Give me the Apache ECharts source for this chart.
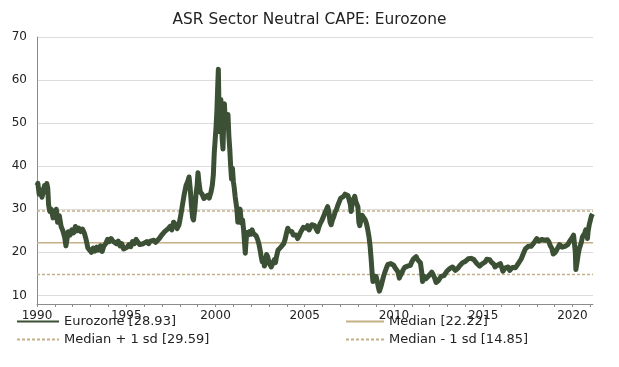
<!DOCTYPE html>
<html>
<head>
<meta charset="utf-8">
<script src="https://cdn.jsdelivr.net/npm/echarts@6/dist/echarts.min.js"></script>
<style>html,body{margin:0;padding:0;background:#fff;}#c{width:619px;height:367px;}</style>
</head>
<body>
<div id="c"></div>
<script>
const titleText = "ASR Sector Neutral CAPE: Eurozone";
const yTicks = [10, 20, 30, 40, 50, 60, 70];
const xTickYears = [1990, 1995, 2000, 2005, 2010, 2015, 2020];
const xYearTicks = [1990,1991,1992,1993,1994,1995,1996,1997,1998,1999,2000,2001,2002,2003,2004,2005,2006,2007,2008,2009,2010,2011,2012,2013,2014,2015,2016,2017,2018,2019,2020,2021];
const median = 22.22, medianPlus = 29.59, medianMinus = 14.85;
const lastValue = 28.93;
const times = [
1990.00,1990.05,1990.12,1990.20,1990.28,1990.35,1990.42,1990.50,1990.55,1990.60,1990.65,1990.72,1990.80,1990.90,
1991.00,1991.08,1991.15,1991.25,1991.35,1991.45,1991.55,1991.62,1991.68,1991.75,1991.85,1991.95,
1992.05,1992.15,1992.25,1992.35,1992.45,1992.55,1992.65,1992.75,1992.85,1992.95,
1993.05,1993.15,1993.25,1993.35,1993.45,1993.55,1993.65,1993.75,1993.85,1993.95,
1994.05,1994.15,1994.25,1994.35,1994.45,1994.55,1994.65,1994.75,1994.85,1994.95,
1995.05,1995.15,1995.25,1995.35,1995.45,1995.55,1995.65,1995.75,1995.85,1995.95,
1996.05,1996.15,1996.25,1996.35,1996.45,1996.55,1996.65,1996.75,1996.85,1996.95,
1997.05,1997.15,1997.25,1997.35,1997.45,1997.55,1997.65,1997.75,1997.85,1997.95,
1998.05,1998.15,1998.25,1998.35,1998.45,1998.52,1998.58,1998.65,1998.72,1998.77,1998.85,1998.92,1998.97,
1999.02,1999.08,1999.15,1999.25,1999.35,1999.45,1999.55,1999.65,1999.75,1999.82,1999.88,1999.93,1999.98,
2000.03,2000.08,2000.12,2000.16,2000.19,2000.22,2000.26,2000.30,2000.34,2000.38,2000.42,2000.46,2000.50,2000.55,2000.60,2000.65,2000.70,2000.75,2000.80,2000.85,2000.90,2000.95,
2001.00,2001.05,2001.10,2001.15,2001.20,2001.25,2001.30,2001.38,2001.45,2001.52,2001.58,2001.63,2001.67,2001.71,2001.76,2001.82,2001.90,2001.98,
2002.05,2002.12,2002.20,2002.28,2002.36,2002.44,2002.50,2002.56,2002.62,2002.68,2002.74,2002.80,2002.86,2002.92,2002.98,
2003.05,2003.12,2003.18,2003.24,2003.30,2003.36,2003.42,2003.50,2003.58,2003.66,2003.74,2003.82,2003.90,2003.98,
2004.05,2004.12,2004.20,2004.28,2004.36,2004.44,2004.52,2004.60,2004.68,2004.76,2004.84,2004.92,
2005.00,2005.08,2005.16,2005.24,2005.32,2005.40,2005.48,2005.56,2005.64,2005.72,2005.80,2005.88,2005.96,
2006.04,2006.12,2006.20,2006.28,2006.35,2006.42,2006.48,2006.55,2006.62,2006.70,2006.78,2006.86,2006.94,
2007.02,2007.10,2007.18,2007.26,2007.34,2007.42,2007.50,2007.56,2007.60,2007.66,2007.74,2007.80,2007.86,2007.92,2007.98,
2008.03,2008.08,2008.15,2008.22,2008.30,2008.38,2008.45,2008.52,2008.60,2008.66,2008.72,2008.77,2008.82,2008.88,2008.94,
2009.00,2009.06,2009.12,2009.18,2009.22,2009.28,2009.34,2009.42,2009.50,2009.58,2009.66,2009.74,2009.82,2009.90,2009.98,
2010.06,2010.14,2010.22,2010.30,2010.36,2010.44,2010.52,2010.60,2010.68,2010.76,2010.84,2010.92,
2011.00,2011.08,2011.16,2011.24,2011.32,2011.40,2011.48,2011.55,2011.60,2011.66,2011.72,2011.80,2011.88,2011.96,
2012.04,2012.12,2012.20,2012.28,2012.36,2012.42,2012.48,2012.56,2012.64,2012.72,2012.80,2012.88,2012.96,
2013.04,2013.12,2013.20,2013.28,2013.36,2013.44,2013.52,2013.60,2013.68,2013.76,2013.84,2013.92,
2014.00,2014.08,2014.16,2014.24,2014.32,2014.40,2014.48,2014.56,2014.64,2014.72,2014.80,2014.88,2014.96,
2015.04,2015.12,2015.20,2015.28,2015.36,2015.44,2015.52,2015.60,2015.66,2015.72,2015.80,2015.88,2015.96,
2016.04,2016.10,2016.16,2016.24,2016.32,2016.40,2016.48,2016.56,2016.64,2016.72,2016.80,2016.88,2016.96,
2017.04,2017.12,2017.20,2017.28,2017.36,2017.44,2017.52,2017.60,2017.68,2017.76,2017.84,2017.92,
2018.00,2018.06,2018.12,2018.20,2018.28,2018.36,2018.44,2018.52,2018.60,2018.68,2018.76,2018.84,2018.92,2018.98,
2019.04,2019.12,2019.20,2019.28,2019.36,2019.42,2019.50,2019.58,2019.66,2019.74,2019.82,2019.90,2019.98,
2020.06,2020.12,2020.16,2020.19,2020.22,2020.26,2020.32,2020.38,2020.44,2020.50,2020.56,2020.62,2020.68,2020.74,2020.80,2020.84,2020.88,2020.94,
2021.00,2021.06,2021.12
];
const eurozone = [
35.5,36,33.5,34.5,32.8,34,35.5,34,36,35,31,29.5,30,28,
28.5,30,27,28.5,26,25,23.5,21.5,23,24.8,24,25.2,
24.5,26,25,25.6,24.8,25.4,24.5,23,21,20.5,
20,21,20.3,21.2,20.5,21.5,20.2,21.5,22,23,
22.5,23.2,22.6,22.8,22,22.6,21.5,22,20.8,20.5,
21.2,21.8,21.3,22.5,22,23,22.6,21.8,21.4,22,
21.6,22.5,22,22.6,22.2,22.8,22.3,22.6,23.2,23.8,
24.2,24.8,24.4,25.5,26,25.2,27,26.5,25.5,26.3,
28.5,31,33.5,35.5,36.5,37.5,35,31,28,27.5,30.5,34,35.5,
38.5,36,34,33.5,32.5,32.8,33.2,32.6,34,35.5,38,43,46,
49,53,58,62.5,55,48,52,55.5,50,46,44,50,54.5,50,51,49,52,47,44,40,37,39.5,
36.5,35,33,31.5,30,27,29.5,30,26.8,27.5,25,22,19.8,22.5,24.6,24,24.8,24.2,
25.2,24.4,24,23.8,23,21.8,20.5,19,17.8,18.5,16.8,17.5,19.5,19,18,
17.2,16.6,16.3,17.8,18.3,17.6,19,20.5,20.2,21.2,21,22,23,24.5,
25.6,25,24.6,24.8,24,23.8,24,23.2,23.8,24.6,25.2,25.8,
26,25.6,26.2,25.2,25.6,26.4,26.8,26.2,25.4,24.8,26,26.8,27.4,
28.2,29,29.8,30.6,29.5,27,26.4,27.5,28.2,29.3,30,31,31.8,
32.6,32.2,33,33.5,33.8,33.2,33.6,31,29.5,31.5,32.5,33,31.8,31.2,30.5,
27,26.2,27.5,28.6,28.2,27.6,26.8,25.5,23.6,21.5,18.5,15.5,13.2,14.5,13.8,
14.4,13.3,12,11,10.6,12.2,13.2,14.5,15.5,16.4,17.2,16.8,17.4,17.6,17,
16.4,16.8,15.5,14,14.6,15.2,16,16.5,16.2,16.8,17.2,17,
17.8,18.4,18.8,19,18.3,18.6,17.6,15.5,13.2,13.8,14.4,13.9,14.2,14.6,
15,15.4,14.8,14,13,12.6,13.4,13.8,14.4,14.8,14.6,15,15.6,
15.8,16.2,16,16.6,16.2,15.8,16,16.4,16.9,17.2,17.6,17.4,
17.9,18.2,18.5,18.8,18.6,18.8,18.3,18,17.4,17.6,16.8,17.2,17.4,
17,17.8,18.4,18.6,18.3,17.8,17.4,17.2,16.6,16.4,17,17.2,17.4,
16.4,15.6,16,16.4,16.8,16.6,15.8,16.2,16.5,16.6,16.4,16.8,17.4,
17.8,18.4,19.2,20,20.8,21.2,21.4,21.2,21.4,21.8,22.2,22.6,
23.2,23.4,22.6,22.8,23,23.2,22.8,23.2,22.9,22.4,21.5,21,19.6,19.2,
20,20.6,21.2,21.8,22,21.2,21.6,21.4,21,21.8,22.4,22.8,23.4,
24,23.6,20,16,15.6,17.8,19.5,20.8,21.6,22.4,23.6,24,24.4,25.2,24.6,23.2,25,26.4,
27.4,28.4,28.93
];
const xStart = 1990, xEnd = 2021.15;

const font = "'DejaVu Sans', Verdana, sans-serif";
const seriesName = "Eurozone [" + lastValue.toFixed(2) + "]";
const medName = "Median [" + median.toFixed(2) + "]";
const plusName = "Median + 1 sd [" + medianPlus.toFixed(2) + "]";
const minusName = "Median - 1 sd [" + medianMinus.toFixed(2) + "]";
const tan = "#c4b086";
const green = "#3c5035";

function flat(v){ return [[xStart, v], [xEnd, v]]; }

const chart = echarts.init(document.getElementById('c'), null, {renderer: 'canvas'});
chart.setOption({
  animation: false,
  backgroundColor: '#fff',
  title: {
    text: titleText, left: 'center', top: 7,
    textStyle: {fontFamily: font, fontSize: 15.4, fontWeight: 'normal', color: '#222'}
  },
  grid: {left: 37, right: 26, top: 37, bottom: 63, containLabel: false},
  legend: [
    {
      orient: 'vertical', left: 16, top: 315, padding: 0, itemWidth: 42, itemHeight: 14, itemGap: 5,
      data: [seriesName, plusName],
      itemStyle: {opacity: 0},
      textStyle: {fontFamily: font, fontSize: 13, color: '#222'}
    },
    {
      orient: 'vertical', left: 345, top: 315, padding: 0, itemWidth: 38, itemHeight: 14, itemGap: 5,
      data: [medName, minusName],
      itemStyle: {opacity: 0},
      textStyle: {fontFamily: font, fontSize: 13, color: '#222'}
    }
  ],
  xAxis: {
    type: 'value', min: xStart, max: xEnd, interval: 5,
    axisLine: {show: true, lineStyle: {color: '#8c8c8c', width: 1}},
    axisTick: {show: true, length: 3, customValues: xYearTicks, lineStyle: {color: '#8c8c8c'}},
    splitLine: {show: false},
    axisLabel: {
      margin: 6,
      fontFamily: font, fontSize: 12, color: '#222',
      customValues: xTickYears,
      formatter: v => String(Math.round(v))
    }
  },
  yAxis: {
    type: 'value', min: 8, max: 70,
    axisLine: {show: true, lineStyle: {color: '#8c8c8c', width: 1}},
    axisTick: {show: false, customValues: yTicks},
    splitLine: {show: true, customValues: yTicks, lineStyle: {color: '#dcdcdc', width: 1}},
    axisLabel: {
      fontFamily: font, fontSize: 12, color: '#222', margin: 10,
      customValues: yTicks
    }
  },
  series: [
    {
      name: plusName, type: 'line', data: flat(medianPlus), symbol: 'none', silent: true,
      lineStyle: {color: tan, width: 1.3, type: [3, 2]}, itemStyle: {color: tan}, z: 2
    },
    {
      name: minusName, type: 'line', data: flat(medianMinus), symbol: 'none', silent: true,
      lineStyle: {color: tan, width: 1.3, type: [3, 2]}, itemStyle: {color: tan}, z: 2
    },
    {
      name: medName, type: 'line', data: flat(median), symbol: 'none', silent: true,
      lineStyle: {color: tan, width: 1.5}, itemStyle: {color: tan}, z: 2
    },
    {
      name: seriesName, type: 'line', symbol: 'none', silent: true,
      data: times.map((t, i) => [t, eurozone[i]]),
      lineStyle: {color: green, width: 5, join: 'round'}, itemStyle: {color: green}, z: 3
    }
  ]
});
</script>
</body>
</html>
